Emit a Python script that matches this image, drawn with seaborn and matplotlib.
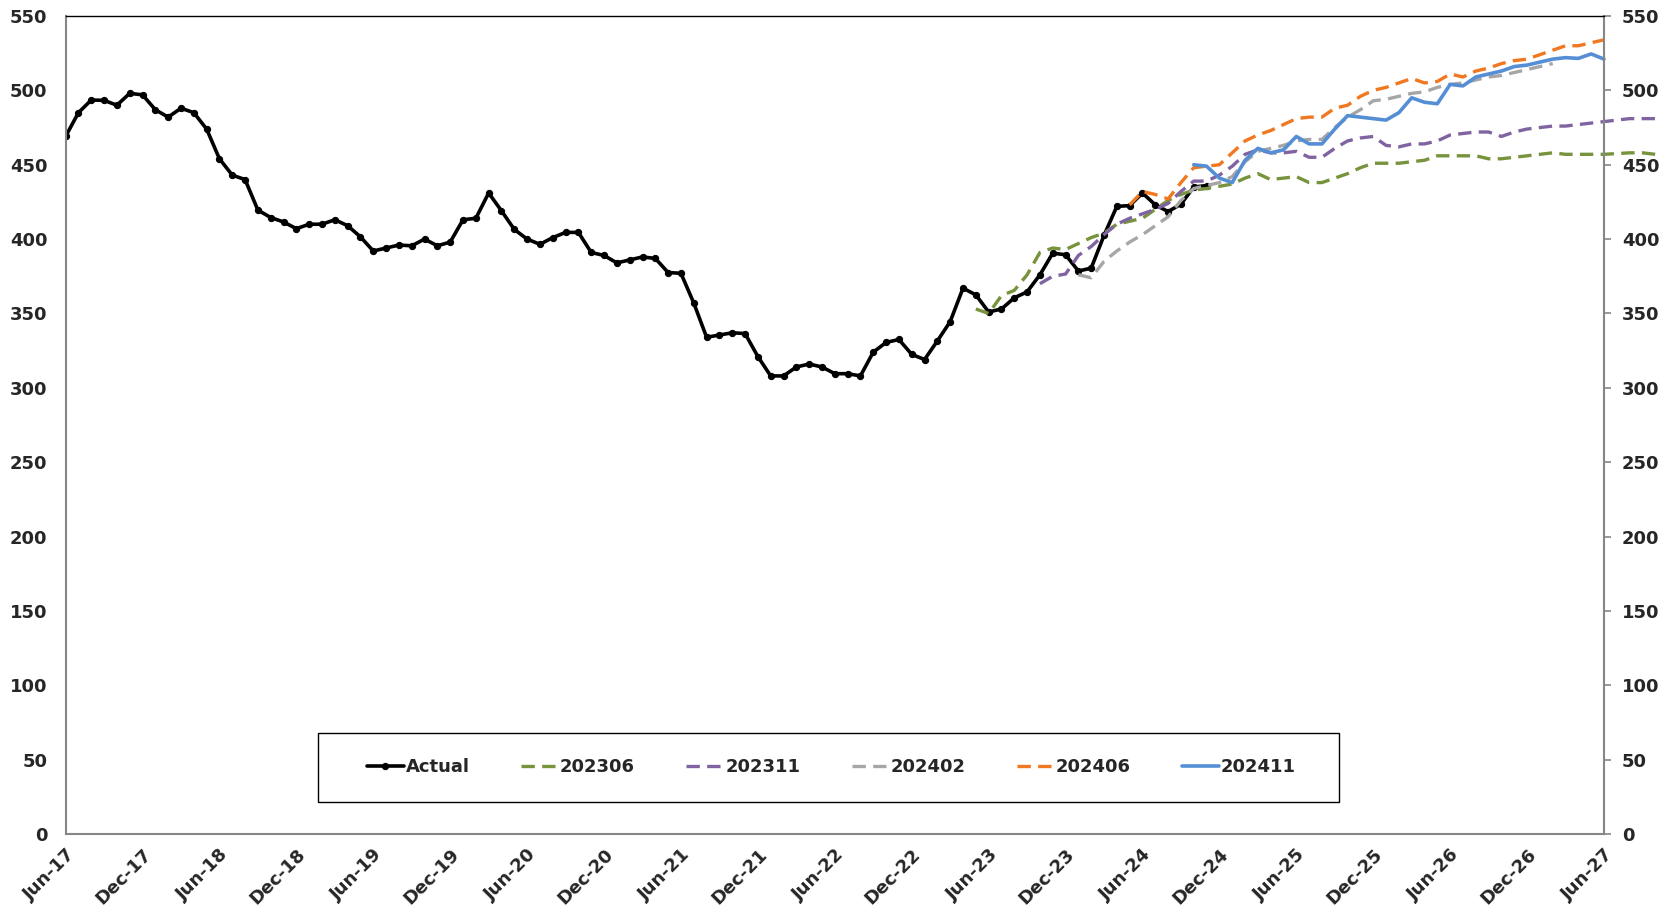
import pandas as pd
import numpy as np
import seaborn as sns
import matplotlib.pyplot as plt
from matplotlib.patches import Rectangle

sns.set_theme()
sns.set_style("white")
plt.rcParams['font.family'] = ['DejaVu Sans']
plt.rcParams['font.weight'] = 'bold'

# monthly axis, Jun-17 .. Oct-27 (axis shown to Jun-27)
months = pd.date_range("2017-06-01", periods=125, freq="MS")

actual = [469, 485, 493.5, 493.3, 490, 498, 497, 487, 482, 488, 485, 474,
          454, 443, 440, 419.5, 414.5, 411.5, 407, 410, 410, 413, 409, 401.5,
          392, 394, 396, 395.5, 400, 395.5, 398, 413, 414, 431, 419, 406.5,
          400, 396.5, 401, 404.5, 404.5, 391, 389, 384, 386, 388, 387, 377.5,
          377, 357, 334, 335.5, 337, 336.5, 321, 308, 308, 314, 316, 314,
          309.5, 309.5, 308, 324, 330.5, 332.5, 322.5, 319, 331.5, 344.5, 367, 362.5,
          351, 353, 360.5, 364.5, 376, 390.5, 389.5, 378.5, 380.5, 402.5, 422, 422.5,
          431, 423, 418.5, 423.5, 435, 436]

f202306 = [353, 350, 362, 365.5, 376, 391, 394, 393, 397, 401, 404, 410,
           412, 414, 420, 426, 430, 433, 434, 435.5, 437, 441, 444, 440,
           441, 442, 438, 438, 441, 444, 448, 451, 451, 451, 452, 453,
           456, 456, 456, 456, 454, 454, 455, 456, 457, 458, 457, 457,
           457, 457, 457.5, 458, 458, 457]
f202311 = [370, 375, 376.5, 389, 395, 403, 410, 414, 417, 420, 424, 432,
           439, 439, 443, 449, 457, 460, 458, 458, 459, 455, 455, 461,
           466, 468, 469, 463, 462, 464, 464, 466, 470, 471, 472, 472,
           469, 472, 474, 475, 476, 476, 477, 478, 479, 480, 481, 481, 481]
f202402 = [376, 374, 385, 392, 398, 403, 409, 415, 426, 434, 436, 438,
           442, 452, 459, 461, 463, 466, 467, 467, 475, 482, 487, 493,
           494, 496, 498, 499, 502, 504, 505, 507, 509, 510, 512, 514, 516, 518]
f202406 = [423, 432, 430, 427, 438, 448, 449, 450, 458, 466, 470, 473,
           477, 481, 482, 482, 488, 490, 496, 500, 502, 505, 508, 505,
           506, 511, 509, 513, 515, 518, 520, 521, 524, 527, 530, 530, 532, 534]
f202411 = [450, 449, 441, 438, 453, 461, 458, 460, 469, 464, 464, 474,
           483, 482, 481, 480, 485, 495, 492, 491, 504, 503, 509, 511,
           513, 516, 517, 519, 521, 522, 521.5, 524.5, 521]

# first month index of each forecast
starts = {"202306": 71, "202311": 76, "202402": 79, "202406": 83, "202411": 88}
colors = {"Actual": "black", "202306": "#77933C", "202311": "#8064A2",
          "202402": "#A6A6A6", "202406": "#F07820", "202411": "#558ED5"}

fig = plt.figure(figsize=(16.6, 9.09), dpi=100)
ax = fig.add_axes([65.6 / 1660, 1 - 834 / 909, (1604 - 65.6) / 1660, (834 - 16) / 909])

sns.lineplot(x=np.arange(len(actual)), y=actual, ax=ax, color="black", lw=2.6,
             marker="o", markersize=4.5, mec="black", mfc="black", label="Actual",
             errorbar=None, sort=False)

for name, vals in [("202306", f202306), ("202311", f202311), ("202402", f202402),
                   ("202406", f202406)]:
    idx = np.arange(starts[name], starts[name] + len(vals))
    sns.lineplot(x=idx, y=vals, ax=ax, color=colors[name], lw=2.4,
                 linestyle=(0, (4, 2.2)), label=name, errorbar=None, sort=False,
                 clip_on=False)

idx = np.arange(starts["202411"], starts["202411"] + len(f202411))
sns.lineplot(x=idx, y=f202411, ax=ax, color=colors["202411"], lw=2.6,
             label="202411", errorbar=None, sort=False, clip_on=False)

ax.set_xlim(0, 120)
ax.set_ylim(0, 550)
ax.set_yticks(range(0, 551, 50))
ticks = list(range(0, 121, 6))
ax.set_xticks(ticks)
ax.set_xticklabels([months[i].strftime("%b-%y") for i in ticks], rotation=45,
                   ha="right", va="top", rotation_mode="anchor",
                   fontsize=13, fontweight="bold")
ax.tick_params(axis="x", length=0, pad=8)
ax.tick_params(axis="y", left=False, right=True, labelleft=True, labelright=True,
               length=5, width=1.2, color="#868686", pad=8, labelsize=13)
for lab in ax.get_yticklabels():
    lab.set_fontweight("bold")
ax.set_xlabel("")
ax.set_ylabel("")

for s in ["left", "right", "bottom"]:
    ax.spines[s].set_color("#868686")
    ax.spines[s].set_linewidth(1.5)
ax.spines["top"].set_color("black")
ax.spines["top"].set_linewidth(1.0)

leg = ax.legend(loc="center", bbox_to_anchor=(831.5 / 1660, 1 - 767.5 / 909),
                bbox_transform=fig.transFigure, ncol=6, frameon=False,
                handlelength=2.05, handletextpad=0.1, columnspacing=2.85,
                prop={"size": 13, "weight": "bold"})
fig.patches.append(Rectangle((318 / 1660, 1 - 802 / 909), (1339 - 318) / 1660,
                             69 / 909, transform=fig.transFigure, fill=False,
                             edgecolor="black", lw=1.0))

fig.savefig("out.png", dpi=100)
